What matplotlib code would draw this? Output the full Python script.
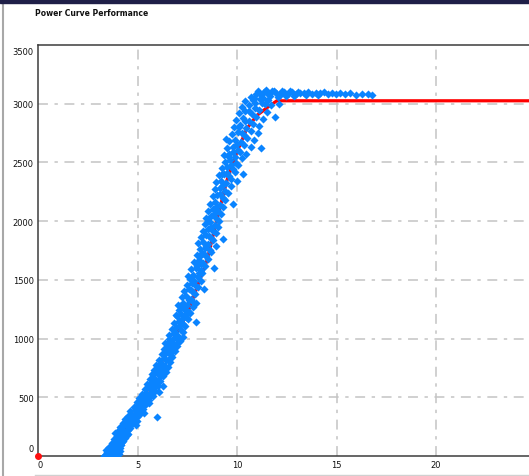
import matplotlib
matplotlib.use("Agg")
import matplotlib.pyplot as plt
from matplotlib.patches import Rectangle
from matplotlib.lines import Line2D
import matplotlib.transforms as mtransforms

# measured turbine output (wind speed m/s, power kW)
measured = [
    (3.35, 5), (3.52, 12), (3.71, 8), (3.9, 4), (4.05, 15), (3.45, 30), (3.62, 42), (3.83, 25),
    (4.0, 38), (3.58, 60), (3.77, 71), (3.96, 55), (4.12, 66), (3.68, 88), (3.87, 95), (4.05, 82),
    (3.5, 18), (3.8, 50), (4.18, 90), (3.42, 48),
    (3.72, 110), (3.9, 120), (4.1, 105), (4.28, 126), (3.82, 142), (4.0, 155), (4.2, 138), (4.38, 150),
    (3.95, 170), (4.15, 182), (4.33, 166), (4.5, 190), (3.88, 195), (4.08, 130), (4.25, 200), (4.45, 175),
    (4.0, 215), (4.2, 228), (4.4, 210), (4.6, 240), (4.12, 250), (4.32, 262), (4.52, 245), (4.72, 270),
    (4.25, 285), (4.45, 296), (4.65, 280), (4.85, 305), (4.38, 318), (4.58, 310), (4.78, 322), (4.98, 300),
    (4.9, 260), (4.5, 222),
    (4.5, 340), (4.72, 352), (4.95, 335), (5.15, 360), (4.62, 380), (4.85, 392), (5.06, 375), (5.28, 400),
    (4.8, 420), (5.02, 432), (5.22, 415), (5.45, 440), (4.95, 460), (5.18, 472), (5.4, 455), (5.6, 480),
    (5.1, 495), (5.32, 505), (5.55, 490), (5.8, 510), (6.0, 330), (5.35, 368),
    (5.25, 525), (5.45, 540), (5.65, 530), (5.88, 555), (6.08, 545), (5.38, 570), (5.6, 585), (5.82, 575),
    (6.02, 600), (5.5, 615), (5.72, 628), (5.92, 612), (6.15, 640), (5.62, 655), (5.85, 668), (6.05, 650),
    (6.28, 680), (5.75, 695), (5.98, 705), (6.2, 690), (6.45, 715), (6.3, 600),
    (5.85, 730), (6.08, 742), (6.3, 728), (6.52, 755), (5.95, 775), (6.18, 788), (6.4, 770), (6.62, 800),
    (6.1, 820), (6.32, 835), (6.55, 815), (6.75, 845), (6.22, 868), (6.45, 880), (6.66, 860), (6.88, 890),
    (6.35, 910), (6.58, 925), (6.8, 905), (7.0, 935), (6.48, 955), (6.7, 968), (6.92, 950), (7.12, 980),
    (6.6, 995), (6.82, 1005), (7.05, 990), (7.3, 1010),
    (6.6, 1030), (6.82, 1045), (7.05, 1025), (7.28, 1060), (6.72, 1085), (6.95, 1098), (7.18, 1075),
    (7.4, 1110), (6.85, 1135), (7.08, 1150), (7.3, 1128), (7.52, 1165), (6.98, 1190), (7.2, 1205),
    (7.42, 1180), (7.65, 1215), (7.1, 1240), (7.35, 1255), (7.58, 1230), (7.8, 1265), (7.95, 1140),
    (7.05, 1290), (7.28, 1305), (7.5, 1285), (7.75, 1320), (7.95, 1300), (7.22, 1350), (7.45, 1365),
    (7.68, 1340), (7.9, 1378), (7.35, 1405), (7.58, 1420), (7.8, 1398), (8.05, 1435), (7.5, 1460),
    (7.72, 1475), (7.95, 1450), (8.2, 1490), (7.62, 1505), (8.35, 1420),
    (7.55, 1530), (7.8, 1545), (8.02, 1525), (8.25, 1560), (7.7, 1590), (7.95, 1605), (8.18, 1580),
    (8.4, 1620), (7.85, 1650), (8.08, 1665), (8.3, 1640), (8.55, 1680), (8.0, 1710), (8.22, 1725),
    (8.45, 1700), (8.7, 1740), (8.12, 1760), (8.38, 1775), (8.62, 1755), (8.92, 1790), (8.85, 1600),
    (8.05, 1810), (8.3, 1825), (8.52, 1805), (8.78, 1840), (8.2, 1865), (8.45, 1880), (8.68, 1858),
    (8.95, 1895), (8.3, 1920), (8.55, 1935), (8.8, 1912), (9.05, 1950), (8.4, 1975), (8.65, 1990),
    (8.88, 1968), (9.12, 2005), (9.3, 1850),
    (8.45, 2030), (8.7, 2045), (8.95, 2025), (9.2, 2060), (8.55, 2090), (8.8, 2105), (9.05, 2085),
    (9.3, 2120), (8.65, 2150), (8.9, 2165), (9.15, 2140), (9.42, 2180), (8.78, 2210), (9.02, 2225),
    (9.28, 2200), (9.55, 2240), (8.9, 2270), (9.15, 2285), (9.4, 2260), (9.68, 2300), (9.8, 2150),
    (8.95, 2330), (9.2, 2345), (9.45, 2325), (9.72, 2360), (9.98, 2340), (9.1, 2390), (9.35, 2405),
    (9.6, 2385), (9.88, 2420), (9.25, 2450), (9.5, 2465), (9.78, 2440), (10.05, 2480), (9.4, 2505),
    (9.65, 2520), (9.95, 2498), (10.25, 2535), (10.3, 2400),
    (9.35, 2560), (9.6, 2575), (9.88, 2550), (10.15, 2590), (10.45, 2570), (9.5, 2620), (9.78, 2635),
    (10.05, 2610), (10.35, 2650), (10.7, 2630), (9.62, 2680), (9.9, 2695), (10.2, 2670), (10.5, 2710),
    (10.85, 2690), (9.75, 2740), (10.05, 2755), (10.35, 2730), (10.68, 2770), (11.05, 2750),
    (11.2, 2620), (9.45, 2700),
    (9.85, 2800), (10.15, 2815), (10.45, 2790), (10.78, 2830), (11.1, 2810), (9.95, 2860), (10.28, 2875),
    (10.6, 2850), (10.95, 2890), (11.3, 2870), (10.1, 2920), (10.42, 2935), (10.75, 2910), (11.1, 2950),
    (11.5, 2930), (10.25, 2975), (10.58, 2990), (10.92, 2965), (11.28, 3005), (11.7, 2985), (11.9, 2890),
    (10.4, 3020), (10.8, 3030), (11.15, 3040), (11.55, 3035), (12.1, 3000),
    (10.7, 3060), (10.95, 3085), (11.2, 3070), (11.35, 3100), (11.55, 3080), (11.75, 3105), (11.95, 3090),
    (12.15, 3075), (12.35, 3098), (12.55, 3085), (12.75, 3102), (12.95, 3080), (13.15, 3095),
    (13.35, 3088), (13.55, 3100), (13.75, 3082), (13.95, 3094), (14.15, 3090), (14.35, 3098),
    (14.55, 3084), (14.75, 3092), (14.95, 3086), (15.2, 3095), (15.45, 3082), (15.7, 3090), (16.0, 3078),
    (16.3, 3085), (16.6, 3080), (16.8, 3072), (11.05, 3110), (11.45, 3115), (11.85, 3112), (12.25, 3108),
    (12.65, 3110), (13.05, 3104), (11.65, 3065), (12.05, 3060), (12.45, 3068), (12.85, 3066),
    (13.45, 3070), (14.05, 3074), (10.85, 3045), (11.3, 3050),
    # filler inside the dense band
    (3.6, 20), (3.85, 35), (4.1, 45), (3.95, 100), (4.2, 115), (4.4, 200), (4.62, 260), (4.7, 330),
    (4.9, 370), (5.1, 410), (5.3, 470), (5.5, 510), (5.7, 560), (5.9, 640), (6.1, 700), (6.25, 760),
    (6.45, 820), (6.6, 880), (6.75, 940), (6.9, 1060), (7.1, 1110), (7.25, 1170), (7.45, 1240),
    (7.6, 1330), (7.7, 1410), (7.85, 1490), (8.1, 1560), (8.2, 1640), (8.35, 1720), (8.45, 1790),
    (8.6, 1870), (8.7, 1950), (8.85, 2060), (9.0, 2130), (9.15, 2230), (9.3, 2310), (9.5, 2410),
    (9.7, 2480), (9.8, 2590), (10.0, 2660), (10.25, 2750), (10.4, 2850), (10.6, 2940), (10.9, 3010),
    (5.6, 450), (6.4, 960), (3.75, 15), (4.3, 180), (5.0, 450), (5.8, 700), (6.55, 900), (7.15, 1280),
    (8.0, 1620), (8.55, 2000), (9.25, 2400), (10.1, 2800), (3.3, 2), (3.55, 75), (4.55, 290),
    (5.75, 600), (6.95, 1200), (7.4, 1200), (8.15, 1700), (9.6, 2550), (11.4, 3000), (12.2, 3090),
]

# reference power curve
curve_ws = [0, 3.4, 3.7, 4, 4.5, 5, 5.5, 6, 6.5, 7, 7.5, 8, 8.5, 9, 9.5, 10, 10.5, 11, 11.5, 12, 25]
curve_kw = [0, 0, 60, 140, 260, 400, 560, 730, 900, 1060, 1210, 1440, 1670, 2020, 2350, 2590, 2790,
            2900, 2965, 3025, 3025]

x_ticks = [0, 5, 10, 15, 20, 25]
y_ticks = [0, 500, 1000, 1500, 2000, 2500, 3000, 3500]

ws = [p[0] for p in measured]
kw = [p[1] for p in measured]

W, H = 529, 477
fig = plt.figure(figsize=(W / 100, H / 100), dpi=100)
fig.patch.set_facecolor("white")

# axes placed in pixel terms; right side runs off the picture like the screenshot
left, bottom, top, right = 38, 457, 46, 38 + 25 * 19.9
ax = fig.add_axes([left / W, (H - bottom) / H, (right - left) / W, (bottom - top) / H])
ax.set_xlim(0, 25)
ax.set_ylim(0, 3500)

grid_style = dict(color="#c4c4c4", lw=1.1, ls=(0, (6.5, 4.3, 2.2, 4.3)), zorder=0)
for t in x_ticks[1:-1]:
    ax.axvline(t, **grid_style)
for t in y_ticks[1:-1]:
    ax.axhline(t, **grid_style)

ax.plot(curve_ws[1:], curve_kw[1:], color="#ff0000", lw=2.3, zorder=2, solid_capstyle="butt")
ax.scatter(ws, kw, marker="D", s=17, color="#0a84ff", linewidths=0, zorder=3)
ax.plot([0], [0], "o", color="#ff1010", ms=4, clip_on=False, zorder=5)

for s in ["left", "bottom", "top"]:
    ax.spines[s].set_color("#3c3c3c")
    ax.spines[s].set_linewidth(1.1)
ax.spines["right"].set_visible(False)

ax.set_xticks(x_ticks)
ax.set_yticks(y_ticks)
ax.set_xticklabels([str(t) for t in x_ticks])
ax.set_yticklabels([str(t) for t in y_ticks])
ax.tick_params(length=0, labelsize=6, colors="#111111", pad=3)

# end labels nudged inward like the original control does
ylabs = ax.get_yticklabels()
ylabs[0].set_transform(ylabs[0].get_transform() + mtransforms.ScaledTranslation(0, 8 / 100, fig.dpi_scale_trans))
ylabs[-1].set_transform(ylabs[-1].get_transform() + mtransforms.ScaledTranslation(0, -6 / 100, fig.dpi_scale_trans))
xlabs = ax.get_xticklabels()
xlabs[0].set_transform(xlabs[0].get_transform() + mtransforms.ScaledTranslation(2 / 100, 0, fig.dpi_scale_trans))

fig.text(35 / W, 1 - 13 / H, "Power Curve Performance", fontsize=5.5, fontweight="bold",
         color="#111111", ha="left", va="center")

# window chrome
fig.patches.append(Rectangle((0, 1 - 4 / H), 1, 4 / H, transform=fig.transFigure,
                             color="#1f1f48", zorder=10))
fig.lines.append(Line2D([3 / W, 3 / W], [0, 1 - 4 / H], transform=fig.transFigure,
                        color="#a8a8a8", lw=1.5))
fig.lines.append(Line2D([35 / W, 1], [1.5 / H, 1.5 / H], transform=fig.transFigure,
                        color="#d0d0d0", lw=1))

fig.savefig("out.png", dpi=100)
